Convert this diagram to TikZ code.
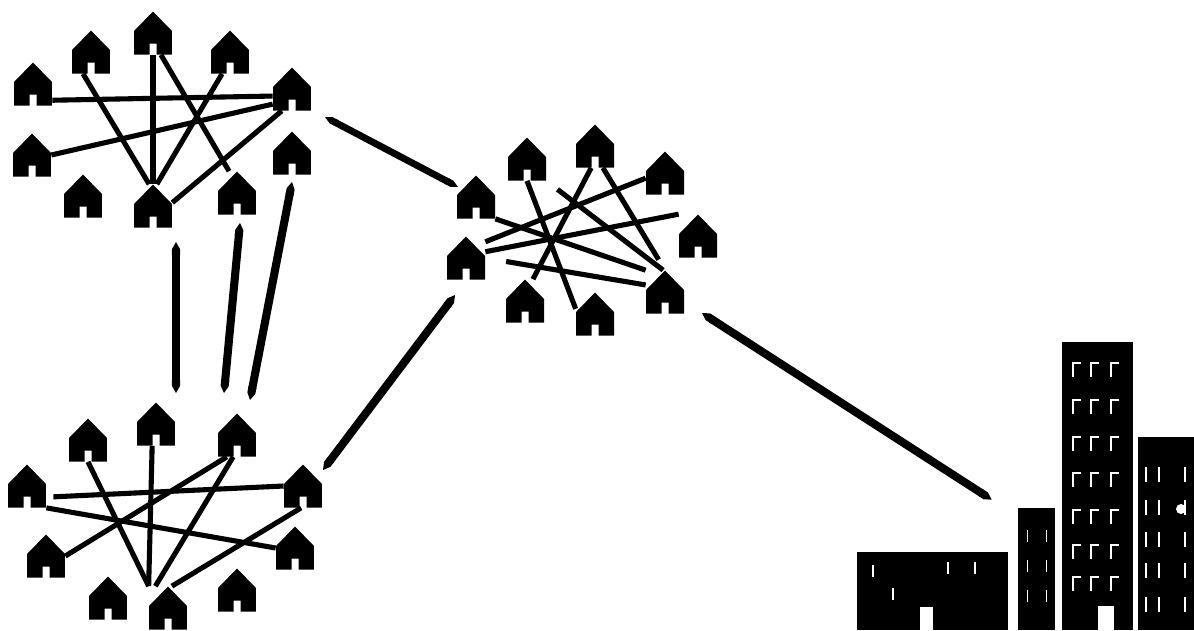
\documentclass[tikz,border=0pt]{standalone}
\usepackage{tikz}
\usetikzlibrary{calc, arrows.meta}

\tikzset{
  hut/.style={minimum width=0.76cm, minimum height=0.86cm, inner sep=0pt,
    path picture={\fill[black] (path picture bounding box.south west)
      -- ++(0cm,0.47cm) -- ++(0.38cm,0.39cm) -- ++(0.38cm,-0.39cm) -- ++(0cm,-0.47cm)
      -- ++(-0.31cm,0cm) -- ++(0cm,0.22cm) -- ++(-0.14cm,0cm) -- ++(0cm,-0.22cm) -- cycle;}},
  tie/.style={line width=2.9pt},
  link/.style={line width=4.6pt, {Triangle Cap[length=4pt]}-{Triangle Cap[length=4pt]}},
  block/.style={fill=black, inner sep=0pt},
  pane/.style={draw=white, line width=1.4pt},
}

\begin{document}
\begin{tikzpicture}[x=0.02cm, y=-0.02cm]
\useasboundingbox (0,0) rectangle (1194,630);

% first village, top left
\foreach \n/\x/\y in {a1/33/84, a2/91/52, a3/153/33, a4/230/52, a5/292/89,
    a6/32/155, a7/83/196, a8/153/206, a9/237/193, a10/292/153}
  \node[hut] (\n) at (\x,\y) {};
\draw[tie] (a1.-40) -- (a5.200);
\draw[tie] (a6.east) -- (a5.218);
\draw[tie] (a2.-110) -- (a8.100);
\draw[tie] (a3.south) -- (a8.north);
\draw[tie] (a3.-70) -- (a9.110);
\draw[tie] (a4.-110) -- (a8.80);
\draw[tie] (a5.-115) -- (a8.10);

% second village, middle
\foreach \n/\x/\y in {b1/476/197, b2/527/159, b3/595/146, b4/665/173, b5/698/236,
    b6/466/258, b7/525/301, b8/595/314, b9/665/292}
  \node[hut] (\n) at (\x,\y) {};
\draw[tie] (b6.40) -- (b4.195);
\draw[tie] (b6.18) -- (b5.north west);
\draw[tie] (b1.south east) -- (b9.north west);
\draw[tie, shorten <=12pt] (b6.east) -- (b9.160);
\draw[tie] (b2.south) -- (b8.165);
\draw[tie] (b3.-100) -- (b7.70);
\draw[tie, shorten <=8pt] (b2.south east) -- (b9.95);
\draw[tie, shorten >=7pt] (b3.-70) -- (b9.north);

% third village, bottom left
\foreach \n/\x/\y in {c1/156/424, c2/237/435, c3/88/440, c4/27/486, c5/303/486,
    c6/46/556, c7/295/548, c8/108/598, c9/237/590, c10/168/608}
  \node[hut] (\n) at (\x,\y) {};
\draw[tie, shorten <=4pt] (c4.-30) -- (c5.west);
\draw[tie] (c3.south) -- (c10.north west);
\draw[tie] (c1.-100) -- (c10.north west);
\draw[tie] (c2.-100) -- (c10.120);
\draw[tie] (c2.-115) -- (c6.east);
\draw[tie] (c5.-95) -- (c10.80);
\draw[tie] (c4.south east) -- (c7.west);

% the town
\node[block, minimum width=3.02cm, minimum height=1.56cm] (k1) at (932.5,591) {};
\node[block, minimum width=0.74cm, minimum height=2.44cm] (k2) at (1036.5,569) {};
\node[block, minimum width=1.42cm, minimum height=5.76cm] (k3) at (1097.5,486) {};
\node[block, minimum width=1.12cm, minimum height=3.86cm] (k4) at (1166,533.5) {};
\foreach \y in {363,400,437,473,510,545,577}
  \foreach \x in {1073,1091,1111}
    \draw[pane] (\x+8,\y) -- (\x,\y) -- (\x,\y+14);
\foreach \y in {467,500,532,563,597}
  \foreach \x in {1146,1159,1185}
    \draw[pane] (\x,\y) -- (\x,\y+15);
\fill[white] (1181,509) circle (0.1cm);
\fill[white] (1098,606) rectangle (1114,630);
\fill[white] (920,607) rectangle (933,630);
\foreach \x/\y in {873/565, 893/588, 948/562, 975/562}
  \draw[pane, line width=0.9pt] (\x,\y) -- (\x,\y+12);
\foreach \y in {530,560,590}
  \foreach \x in {1027,1046}
    \draw[pane, line width=0.5pt] (\x,\y) -- (\x,\y+12);

% roads between the villages and to the town
\draw[link] ($(a8)+(23,36)$) -- ($(c1)+(20,-31)$);
\draw[link] ($(a9)+(3,30)$) -- ($(c2)+(-13,-42)$);
\draw[link] ($(a10)+(0,29)$) -- ($(c2)+(13,-35)$);
\draw[link, line width=3.9pt] ($(a5)+(33,28)$) -- ($(b1)+(-18,-10)$);
\draw[link] ($(b6)+(-11,37)$) -- ($(c5)+(20,-16)$);
\draw[link] ($(b9)+(37,21)$) -- ($(k2.north west)+(-26,-8)$);
\end{tikzpicture}
\end{document}
